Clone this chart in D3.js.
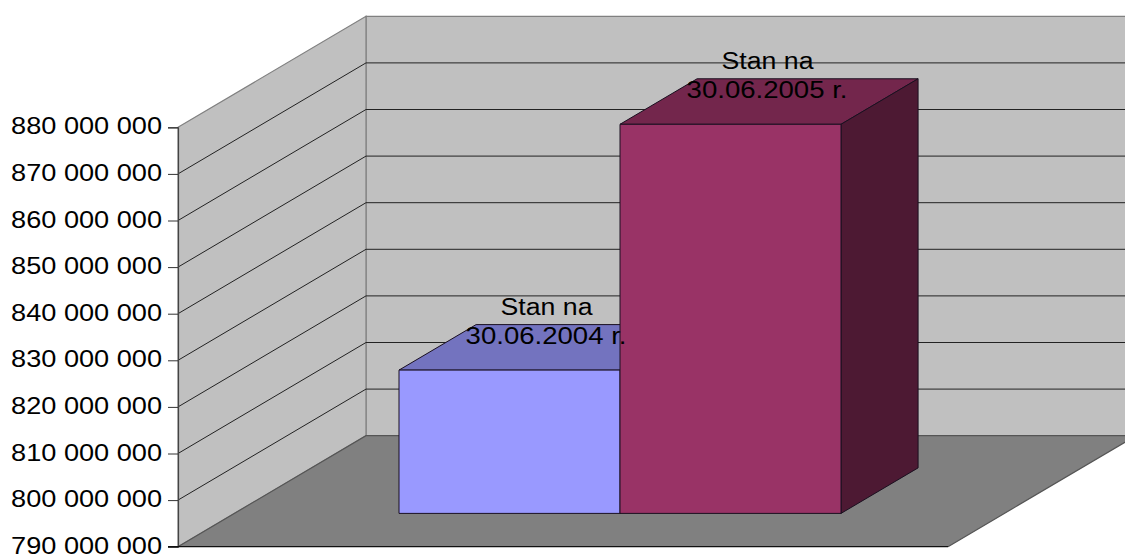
<!DOCTYPE html>
<html><head><meta charset="utf-8">
<script src="https://d3js.org/d3.v7.min.js"></script>
<style>html,body{margin:0;padding:0;background:#fff}svg{display:block}
text{font-family:"Liberation Sans",Arial,sans-serif;font-size:24px;fill:#000}</style>
</head><body><div id="c"></div>
<script>
const seriesNames = ["30.06.2004 r.", "30.06.2005 r."];
const seriesPrefix = "Stan na";
const seriesValues = [820750000, 873500000];
const tickValues = [790000000,800000000,810000000,820000000,830000000,840000000,850000000,860000000,870000000,880000000];
const fillFront = ["#9999FF", "#993366"];
const fillTop = ["#7373BF", "#73264C"];
const fillSide = ["#4D4D80", "#4D1933"];

const W = 1125, H = 554;
const svg = d3.select("#c").append("svg").attr("width", W).attr("height", H);
const y = d3.scaleLinear().domain([790000000, 880000000]).range([546.7, 127.3]);
const x = d3.scaleBand().domain(["all"]).range([178, 948]);
const xs = d3.scaleBand().domain(seriesNames).range([0, 442]);
const DX = 188, DY = 111;              // full oblique depth of the plot box
const P = (px, py, t) => [px + DX * t, py - DY * t];
const poly = pts => "M" + pts.map(p => p.join(",")).join("L") + "Z";
const y0 = y.range()[0], yT = y.range()[1], xL = x.range()[0], xR = x.range()[1];

// stretches a text horizontally to the wanted width, as the reference's text is
function fit(sel, width, px, py) {
  const sx = width / sel.node().getComputedTextLength();
  sel.attr("x", 0).attr("y", 0).attr("dy", null)
     .attr("transform", `translate(${px},${py}) scale(${sx},1)`);
}

// back wall, side wall, floor
svg.append("path").attr("d", poly([P(xL,yT,1),P(xR,yT,1),P(xR,y0,1),P(xL,y0,1)]))
  .attr("fill","#C0C0C0").attr("stroke","#808080").attr("stroke-width",1.2);
svg.append("path").attr("d", poly([P(xL,yT,0),P(xL,yT,1),P(xL,y0,1),P(xL,y0,0)]))
  .attr("fill","#C0C0C0").attr("stroke","#808080").attr("stroke-width",1.2);
svg.append("path").attr("d", poly([P(xL,y0,0),P(xL,y0,1),P(xR,y0,1),P(xR,y0,0)]))
  .attr("fill","#808080");

// gridlines
const inner = tickValues.slice(1, -1);
svg.append("g").selectAll("path").data(inner).join("path")
  .attr("fill","none").attr("stroke","#222").attr("stroke-width",1)
  .attr("d", v => d3.line()([P(xL,y(v),0),P(xL,y(v),1),P(xR,y(v),1)]));
svg.append("path").attr("d", d3.line()([P(xL,y0,0),P(xL,y0,1),P(xR,y0,1),P(xR,y0,0)]))
  .attr("fill","none").attr("stroke","#555").attr("stroke-width",1.2);

// axis
const axis = d3.axisLeft(y).tickValues(tickValues).tickSize(10).tickPadding(6)
  .tickFormat(v => d3.format(",")(v).replace(/,/g, " "));
const gA = svg.append("g").attr("transform", `translate(${xL},0)`).call(axis);
gA.select(".domain").attr("stroke","#444").attr("stroke-width",1.2);
gA.selectAll(".tick line").attr("stroke","#333");
gA.attr("font-family",null).attr("font-size",null);
gA.selectAll("text").each(function() { fit(d3.select(this), 151, -16, 6.5); });

// front base line
svg.append("line").attr("x1",xL-10).attr("x2",xR).attr("y1",y0).attr("y2",y0).attr("stroke","#111").attr("stroke-width",1.2);

// bars
const tA = 0.30, tB = 0.71;
const barX = 235 + (x.bandwidth() - 442) / 2;
const bars = svg.append("g").selectAll("g").data(seriesValues).join("g");
bars.each(function(v, i) {
  const g = d3.select(this);
  const l = barX + xs(seriesNames[i]), r = l + xs.bandwidth();
  const base = y0 - DY * tA;
  const top = base - (y0 - y(v)), d = tB - tA;
  const bk = (px, py) => [px + DX * d, py - DY * d];
  const add = (pts, f) => g.append("path").attr("d", poly(pts)).attr("fill", f)
    .attr("stroke", "#1a1020").attr("stroke-width", 1).attr("stroke-linejoin","round");
  add([[l,top],bk(l,top),bk(r,top),[r,top]], fillTop[i]);
  add([[r,top],bk(r,top),bk(r,base),[r,base]], fillSide[i]);
  add([[l,top],[r,top],[r,base],[l,base]], fillFront[i]);
});

// data labels
const lab = svg.append("g").selectAll("g").data(seriesValues).join("g");
lab.each(function(v, i) {
  const g = d3.select(this);
  const cx = barX + xs(seriesNames[i]) + xs.bandwidth() / 2 + 37;
  const base = y0 - DY * tA, top = base - (y0 - y(v));
  fit(g.append("text").attr("text-anchor","middle").text(seriesPrefix), 92, cx, top - 55);
  fit(g.append("text").attr("text-anchor","middle").text(seriesNames[i]), 161, cx - 0.5, top - 26.5);
});
</script></body></html>
